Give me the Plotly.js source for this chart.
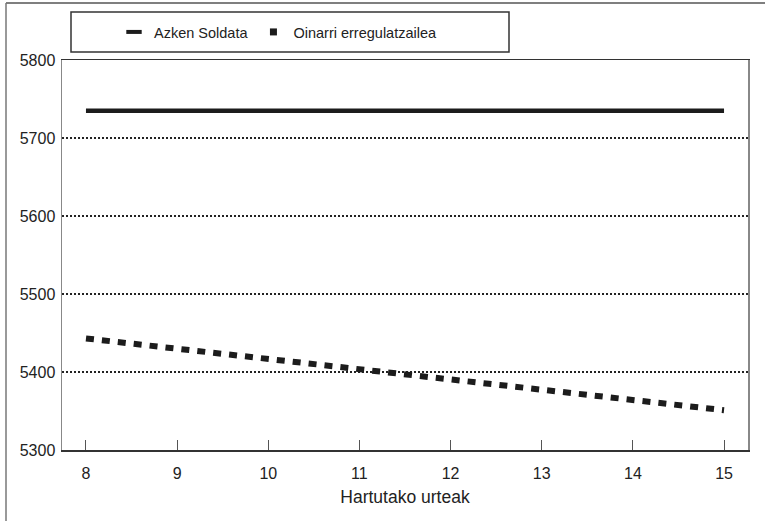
<!DOCTYPE html>
<html>
<head>
<meta charset="utf-8">
<script src="https://cdn.plot.ly/plotly-3.0.1.min.js"></script>
<style>html,body{margin:0;padding:0;background:#fff;overflow:hidden;}#chart{width:765px;height:521px;}</style>
</head>
<body>
<div id="chart"></div>
<script>
// Data
var years = [8, 9, 10, 11, 12, 13, 14, 15];
var azkenSoldata = [5735, 5735, 5735, 5735, 5735, 5735, 5735, 5735];
var oinarriErregulatzailea = [5443, 5430, 5417, 5404, 5390, 5377, 5364, 5351];
var seriesNames = ["Azken Soldata", "Oinarri erregulatzailea"];
var xTicks = [8, 9, 10, 11, 12, 13, 14, 15];
var yTicks = [5300, 5400, 5500, 5600, 5700, 5800];
var xTitle = "Hartutako urteak";

var ink = "#1c1c1c";
var traces = [
  {x: years, y: azkenSoldata, mode: "lines", line: {color: ink, width: 4.5}, showlegend: false, hoverinfo: "skip"},
  {x: years, y: oinarriErregulatzailea, mode: "lines", line: {color: ink, width: 6, dash: "8px,8px"}, showlegend: false, hoverinfo: "skip"},
  {x: [null], y: [null], name: seriesNames[0], mode: "markers",
   marker: {symbol: "line-ew", size: 11, color: ink, line: {color: ink, width: 4}}},
  {x: [null], y: [null], name: seriesNames[1], mode: "markers",
   marker: {symbol: "square", size: 7, color: ink}}
];

var W = 686, H = 390, L = 62, T = 60;
function px(x){ return (x - L) / W; }
function py(y){ return (T + H - y) / H; }

var layout = {
  width: 765, height: 521,
  margin: {l: L, r: 765 - L - W, t: T, b: 521 - T - H},
  paper_bgcolor: "#fff", plot_bgcolor: "#fff",
  font: {family: "Liberation Sans, Arial, sans-serif", color: "#222", size: 16},
  showlegend: true,
  legend: {
    orientation: "h", x: px(114), xanchor: "left", y: py(32), yanchor: "middle",
    bgcolor: "rgba(0,0,0,0)", borderwidth: 0,
    font: {family: "Liberation Sans, Arial, sans-serif", size: 14.5, color: "#222"}
  },
  xaxis: {
    range: [7.737, 15.263], tickvals: xTicks, ticktext: xTicks.map(String),
    ticks: "inside", ticklen: 10, tickwidth: 1, tickcolor: "#555",
    showline: true, linecolor: "#333", linewidth: 1.5, mirror: true,
    showgrid: false, zeroline: false, fixedrange: true,
    ticklabelstandoff: 8,
    tickfont: {size: 16, color: "#222"},
    title: {text: xTitle, font: {size: 17.5, color: "#222"}, standoff: 10}
  },
  yaxis: {
    range: [5300, 5800], tickvals: yTicks, ticktext: yTicks.map(String),
    ticks: "", showline: true, linecolor: "#888", linewidth: 1.5, mirror: true,
    showgrid: true, gridcolor: "#222", gridwidth: 2, griddash: "2px,2px",
    zeroline: false, fixedrange: true,
    ticklabelstandoff: 2,
    tickfont: {size: 16, color: "#222"}
  },
  shapes: [
    {type: "rect", xref: "paper", yref: "paper", x0: px(71), x1: px(509), y0: py(52), y1: py(12),
     line: {color: "#333", width: 1.5}, fillcolor: "rgba(0,0,0,0)", layer: "above"},
    {type: "line", xref: "paper", yref: "paper", x0: px(6), x1: px(1000), y0: py(3), y1: py(3),
     line: {color: "#555", width: 1.5}, layer: "above"},
    {type: "line", xref: "paper", yref: "paper", x0: px(6), x1: px(6), y0: py(800), y1: py(3),
     line: {color: "#777", width: 1.5}, layer: "above"}
  ]
};

Plotly.newPlot("chart", traces, layout, {staticPlot: true, displayModeBar: false});
</script>
</body>
</html>
